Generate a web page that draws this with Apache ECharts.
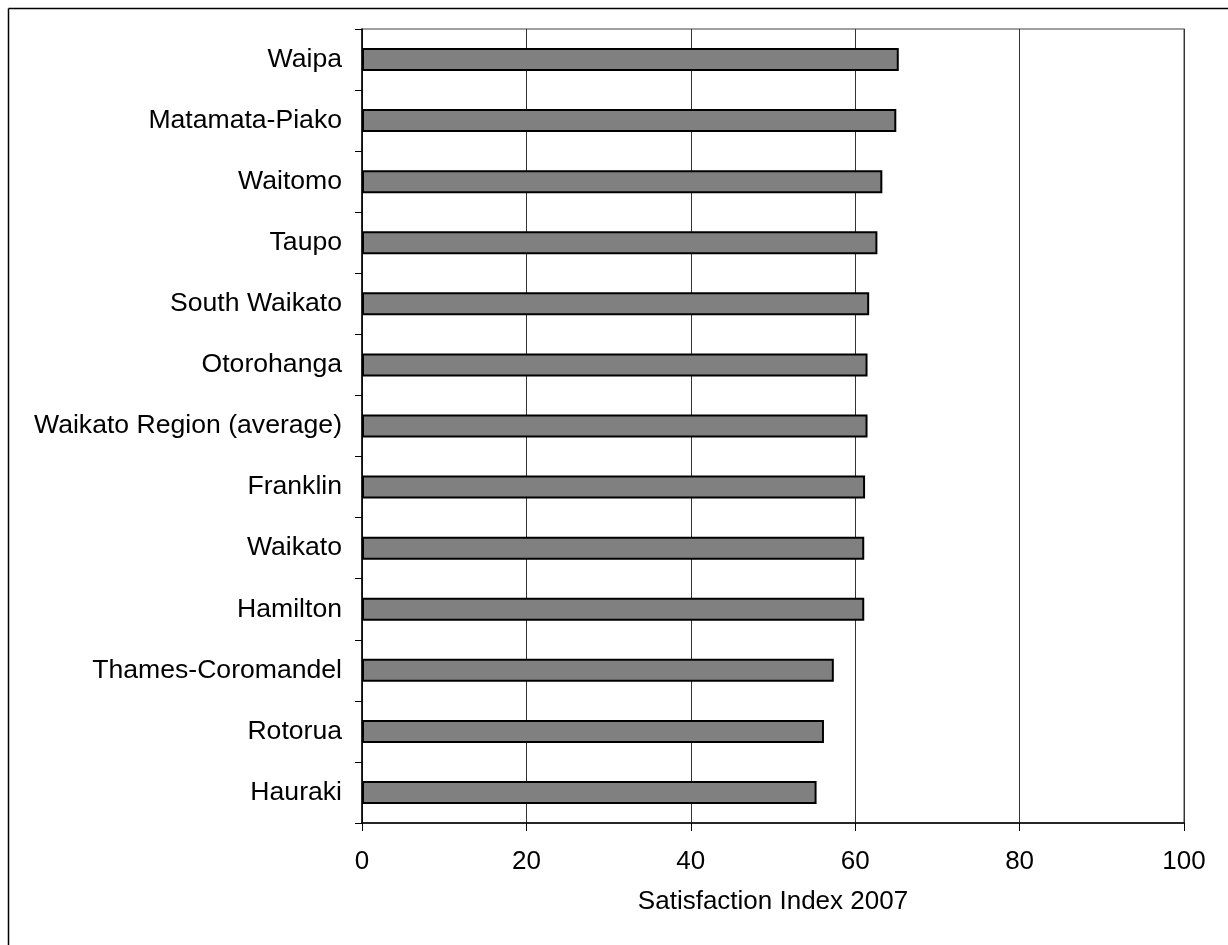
<!DOCTYPE html>
<html>
<head>
<meta charset="utf-8">
<script src="https://cdn.jsdelivr.net/npm/echarts@6/dist/echarts.min.js"></script>
<style>
html,body{margin:0;padding:0;background:#fff;}
#chart{width:1228px;height:945px;}
</style>
</head>
<body>
<div id="chart"></div>
<script>
const categories = ["Waipa","Matamata-Piako","Waitomo","Taupo","South Waikato","Otorohanga","Waikato Region (average)","Franklin","Waikato","Hamilton","Thames-Coromandel","Rotorua","Hauraki"];
const values = [65.3,65.0,63.3,62.7,61.7,61.5,61.5,61.2,61.1,61.1,57.4,56.2,55.3];
const xTicks = [0,20,40,60,80,100];
const axisTitle = "Satisfaction Index 2007";

const font = '"Liberation Sans", Arial, sans-serif';
const chart = echarts.init(document.getElementById('chart'), null, {renderer:'canvas'});
chart.setOption({
  animation:false,
  backgroundColor:'#fff',
  graphic:[
    {type:'line', shape:{x1:8.5,y1:8.5,x2:1228,y2:8.5}, style:{stroke:'#000',lineWidth:1.5}},
    {type:'line', shape:{x1:8.5,y1:8.5,x2:8.5,y2:945}, style:{stroke:'#000',lineWidth:1.5}}
  ],
  grid:{left:362, right:44, top:29, bottom:122, show:true, borderColor:'#808080', borderWidth:1.5, backgroundColor:'#fff'},
  xAxis:{
    type:'value', min:xTicks[0], max:xTicks[xTicks.length-1], interval:20,
    name:axisTitle, nameLocation:'middle', nameGap:66,
    nameTextStyle:{fontFamily:font, fontSize:26, color:'#000'},
    axisLine:{show:true, lineStyle:{color:'#000', width:1.5}},
    axisTick:{show:true, length:8, lineStyle:{color:'#000'}},
    axisLabel:{fontFamily:font, fontSize:26, color:'#000', margin:26},
    splitLine:{show:true, lineStyle:{color:'#333', width:1}}
  },
  yAxis:{
    type:'category', data:categories, inverse:true,
    axisLine:{show:true, lineStyle:{color:'#000', width:1.5}},
    axisTick:{show:true, length:7, lineStyle:{color:'#000'}},
    axisLabel:{fontFamily:font, fontSize:26.6, color:'#000', margin:20},
    splitLine:{show:false}
  },
  series:[{
    type:'bar', data:values, barWidth:23,
    itemStyle:{color:'#808080', borderColor:'#000', borderWidth:2},
    silent:true
  }]
});
</script>
</body>
</html>
